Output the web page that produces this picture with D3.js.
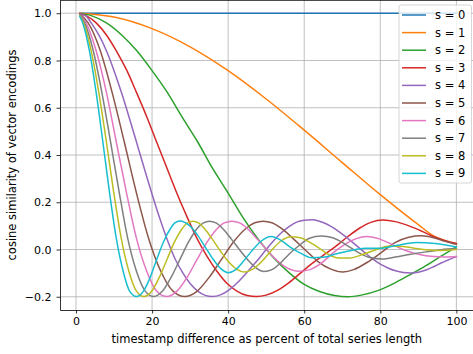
<!DOCTYPE html>
<html>
<head>
<meta charset="utf-8">
<script src="https://cdn.jsdelivr.net/npm/d3@7"></script>
<style>
  body { margin: 0; background: #fff; }
  text { font-family: "DejaVu Sans", sans-serif; }
</style>
</head>
<body>
<div id="chart"></div>
<script>
// legend labels / colours (matplotlib tab10)
const seriesLabels = ["s = 0", "s = 1", "s = 2", "s = 3", "s = 4", "s = 5", "s = 6", "s = 7", "s = 8", "s = 9"];
const seriesColors = ["#1f77b4", "#ff7f0e", "#2ca02c", "#d62728", "#9467bd", "#8c564b", "#e377c2", "#7f7f7f", "#bcbd22", "#17becf"];
const xTicks = [0, 20, 40, 60, 80, 100];
const yTicks = [-0.2, 0, 0.2, 0.4, 0.6, 0.8, 1.0];

// [timestamp difference %, cosine similarity]
const s0 = [[1, 1], [100, 1]];
const s1 = [[1, 1.0], [10, 0.984], [20, 0.935], [30, 0.858], [40, 0.757], [50, 0.637], [60, 0.505], [70, 0.368], [80, 0.232], [90, 0.105], [94, 0.058], [97, 0.038], [100, 0.025]];
const s2 = [[1, 0.999], [4, 0.99], [8, 0.959], [12, 0.908], [16, 0.841], [20, 0.757], [24, 0.665], [28, 0.558], [32, 0.455], [36, 0.341], [40, 0.239], [44, 0.133], [48, 0.041], [52, -0.036], [56, -0.098], [60, -0.148], [64, -0.178], [68, -0.195], [71.5, -0.2], [75, -0.193], [79.5, -0.173], [84, -0.14], [88, -0.105], [92, -0.068], [96, -0.028], [100, 0.012]];
const s3 = [[1, 0.998], [3, 0.987], [5.3, 0.959], [8, 0.908], [10.6, 0.841], [13.3, 0.76], [15.9, 0.665], [18.6, 0.562], [21.2, 0.455], [23.9, 0.345], [26.5, 0.239], [29.2, 0.138], [31.8, 0.047], [34.5, -0.03], [37.1, -0.093], [39.8, -0.145], [42.4, -0.177], [45, -0.195], [47.5, -0.199], [50, -0.193], [53.1, -0.172], [56, -0.14], [59, -0.1], [62, -0.06], [65, -0.025], [68, 0.01], [71.5, 0.055], [74.5, 0.09], [77.5, 0.115], [80.7, 0.125], [84, 0.118], [88, 0.097], [91, 0.077], [94.3, 0.053], [97, 0.037], [100, 0.025]];
const s4 = [[1, 0.997], [2.5, 0.99], [4, 0.959], [6, 0.908], [8, 0.841], [10, 0.757], [12, 0.662], [14, 0.558], [16, 0.45], [18, 0.341], [20, 0.234], [22, 0.133], [24, 0.041], [26, -0.038], [28, -0.097], [30, -0.144], [32, -0.176], [34, -0.194], [35.8, -0.199], [38, -0.192], [40, -0.174], [42, -0.147], [44, -0.114], [46, -0.077], [48, -0.04], [50, 0.0], [52, 0.038], [54, 0.071], [56, 0.097], [58, 0.116], [60, 0.124], [62, 0.126], [64, 0.12], [66, 0.107], [68, 0.088], [70, 0.065], [72, 0.04], [74, 0.013], [76, -0.014], [78, -0.04], [80, -0.062], [82, -0.078], [84, -0.09], [86, -0.097], [88, -0.099], [90, -0.096], [92, -0.087], [94, -0.073], [96, -0.057], [98, -0.043], [100, -0.03]];
const s5 = [[1, 0.996], [3.2, 0.959], [6.4, 0.841], [9.5, 0.665], [12.7, 0.455], [15.9, 0.239], [19.1, 0.047], [22.3, -0.092], [25.5, -0.176], [28.6, -0.199], [31.8, -0.177], [35, -0.118], [38.2, -0.043], [41.4, 0.032], [44.6, 0.088], [47, 0.113], [49.2, 0.12], [51.5, 0.113], [54.1, 0.088], [57.3, 0.043], [60.5, -0.005], [63.7, -0.052], [67, -0.083], [70.2, -0.095], [73, -0.085], [76.5, -0.055], [80.5, -0.01], [84, 0.03], [87.5, 0.052], [90.8, 0.058], [94, 0.05], [97, 0.035], [100, 0.022]];
const s6 = [[1, 0.994], [2.65, 0.959], [5.3, 0.841], [8, 0.665], [10.6, 0.455], [13.3, 0.239], [15.9, 0.047], [18.6, -0.092], [21.2, -0.176], [23.8, -0.199], [26.5, -0.177], [29.2, -0.118], [31.8, -0.043], [34.5, 0.032], [37.1, 0.088], [39, 0.113], [41, 0.12], [43, 0.113], [45.1, 0.088], [47.7, 0.043], [50.4, -0.005], [53.1, -0.05], [55.5, -0.078], [58.5, -0.092], [61.5, -0.085], [64.5, -0.058], [67.5, -0.015], [70.5, 0.02], [73.5, 0.045], [76.5, 0.055], [79.5, 0.046], [83, 0.022], [86.5, -0.003], [90, -0.02], [94, -0.03], [97, -0.032], [100, -0.03]];
const s7 = [[1, 0.992], [2.27, 0.959], [4.55, 0.841], [6.8, 0.665], [9.1, 0.455], [11.4, 0.239], [13.6, 0.047], [15.9, -0.092], [18.2, -0.176], [20.4, -0.199], [22.7, -0.177], [25, -0.118], [27.3, -0.043], [29.6, 0.032], [31.8, 0.088], [33.5, 0.113], [35.1, 0.12], [36.8, 0.113], [38.6, 0.088], [40.9, 0.043], [43.2, -0.005], [45.5, -0.05], [47.5, -0.08], [49.4, -0.093], [51.5, -0.085], [53.7, -0.058], [56, -0.02], [58.5, 0.015], [61.4, 0.048], [64.5, 0.057], [67.5, 0.05], [71, 0.02], [74.5, -0.015], [77.5, -0.035], [80.5, -0.04], [84, -0.032], [88, -0.02], [92, -0.01], [96, -0.001], [100, 0.005]];
const s8 = [[1, 0.99], [2, 0.959], [4, 0.841], [6, 0.665], [8, 0.455], [9.95, 0.239], [11.9, 0.047], [13.9, -0.092], [15.9, -0.176], [17.9, -0.199], [19.9, -0.177], [21.9, -0.118], [23.9, -0.043], [25.9, 0.032], [27.9, 0.088], [29.3, 0.113], [30.7, 0.12], [32.2, 0.113], [33.8, 0.088], [35.8, 0.045], [37.9, -0.005], [40, -0.05], [42.2, -0.083], [44.3, -0.095], [46.5, -0.083], [48.9, -0.05], [51.3, -0.005], [53.8, 0.035], [56.5, 0.054], [59, 0.05], [61.5, 0.03], [64, 0.005], [66.5, -0.022], [69, -0.036], [72, -0.036], [75.5, -0.02], [79, 0.0], [82.5, 0.015], [86, 0.013], [90, 0.003], [95, -0.004], [100, 0.0]];
const s9 = [[1, 0.987], [1.77, 0.959], [3.54, 0.841], [5.3, 0.665], [7.07, 0.455], [8.84, 0.239], [10.6, 0.047], [12.4, -0.092], [14.1, -0.176], [15.9, -0.199], [17.7, -0.177], [19.5, -0.118], [21.2, -0.043], [23, 0.032], [24.8, 0.088], [26, 0.113], [27.3, 0.121], [28.6, 0.115], [30.1, 0.098], [32, 0.06], [34, 0.01], [36, -0.04], [38, -0.08], [40, -0.098], [42, -0.085], [44, -0.05], [46, -0.01], [48.5, 0.033], [51.3, 0.055], [54, 0.038], [56.5, 0.008], [59, -0.015], [62, -0.035], [65, -0.033], [68.5, -0.018], [72, -0.005], [76, 0.005], [80, 0.005], [84.5, 0.018], [89.5, 0.03], [94.5, 0.025], [100, 0.011]];
const allSeries = [s0, s1, s2, s3, s4, s5, s6, s7, s8, s9];

const width = 473;
const height = 354;
const plotLeft = 60, plotRight = 473.5, plotTop = 0, plotBottom = 310;

const svg = d3.select("#chart")
  .append("svg")
  .attr("width", width)
  .attr("height", height);

const x = d3.scaleLinear().domain([-4.2, 104.5]).range([plotLeft, plotRight]);
const y = d3.scaleLinear().domain([-0.256, 1.056]).range([plotBottom, plotTop]);

// grid
svg.append("g")
  .selectAll("line")
  .data(xTicks)
  .join("line")
  .attr("x1", d => x(d)).attr("x2", d => x(d))
  .attr("y1", plotTop).attr("y2", plotBottom)
  .attr("stroke", "#b0b0b0").attr("stroke-width", 0.8);

svg.append("g")
  .selectAll("line")
  .data(yTicks)
  .join("line")
  .attr("x1", plotLeft).attr("x2", plotRight)
  .attr("y1", d => y(d)).attr("y2", d => y(d))
  .attr("stroke", "#b0b0b0").attr("stroke-width", 0.8);

// curves
const line = d3.line()
  .x(d => x(d[0]))
  .y(d => y(d[1]))
  .curve(d3.curveMonotoneX);

svg.append("g")
  .selectAll("path")
  .data(allSeries)
  .join("path")
  .attr("d", line)
  .attr("fill", "none")
  .attr("stroke", (d, i) => seriesColors[i])
  .attr("stroke-width", 1.5)
  .attr("stroke-linejoin", "round")
  .attr("stroke-linecap", "square");

// axes
function xAxis(g) {
  g.attr("transform", "translate(0," + plotBottom + ")")
    .call(d3.axisBottom(x).tickValues(xTicks).tickSize(3.5).tickSizeOuter(0).tickPadding(3.5))
    .call(g => g.select(".domain").attr("stroke-width", 0.8))
    .call(g => g.selectAll(".tick line").attr("stroke-width", 0.8))
    .selectAll("text")
    .attr("font-size", "11px")
    .attr("font-family", "DejaVu Sans")
    .attr("fill", "#000");
}

function yAxis(g) {
  g.attr("transform", "translate(" + plotLeft + ",0)")
    .call(d3.axisLeft(y).tickValues(yTicks).tickFormat(d3.format(".1f")).tickSize(3.5).tickSizeOuter(0).tickPadding(5))
    .call(g => g.select(".domain").attr("stroke-width", 0.8))
    .call(g => g.selectAll(".tick line").attr("stroke-width", 0.8))
    .selectAll("text")
    .attr("font-size", "11px")
    .attr("font-family", "DejaVu Sans")
    .attr("fill", "#000");
}

svg.append("g").call(xAxis);
svg.append("g").call(yAxis);

// top spine
svg.append("line")
  .attr("x1", plotLeft).attr("x2", plotRight)
  .attr("y1", 0.4).attr("y2", 0.4)
  .attr("stroke", "#000").attr("stroke-width", 0.8);

// axis titles
svg.append("text")
  .attr("x", (plotLeft + plotRight) / 2)
  .attr("y", 343)
  .attr("text-anchor", "middle")
  .attr("font-size", "11.5px")
  .text("timestamp difference as percent of total series length");

svg.append("text")
  .attr("transform", "rotate(-90)")
  .attr("x", -(plotTop + plotBottom) / 2)
  .attr("y", 16)
  .attr("text-anchor", "middle")
  .attr("font-size", "11.5px")
  .text("cosine similarity of vector encodings");

// legend
const legend = svg.append("g");
legend.append("rect")
  .attr("x", 399).attr("y", 5)
  .attr("width", 72.5).attr("height", 178)
  .attr("rx", 2)
  .attr("fill", "#fff").attr("fill-opacity", 0.8)
  .attr("stroke", "#cccccc").attr("stroke-width", 0.8);

const items = legend.selectAll("g.item")
  .data(seriesLabels)
  .join("g")
  .attr("class", "item")
  .attr("transform", (d, i) => "translate(0," + (15 + i * 17.6) + ")");

items.append("line")
  .attr("x1", 402).attr("x2", 426)
  .attr("y1", 0).attr("y2", 0)
  .attr("stroke", (d, i) => seriesColors[i])
  .attr("stroke-width", 1.5);

items.append("text")
  .attr("x", 435)
  .attr("y", 0)
  .attr("dy", "0.35em")
  .attr("font-size", "11.5px")
  .text(d => d);
</script>
</body>
</html>
